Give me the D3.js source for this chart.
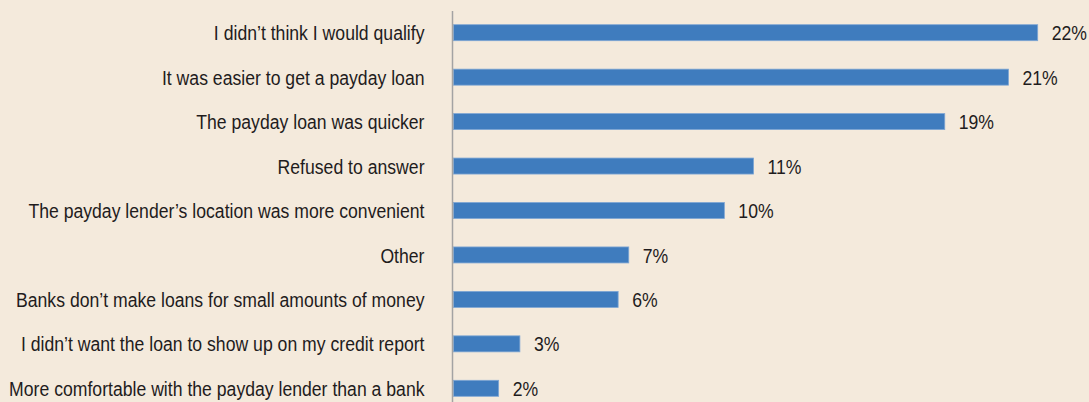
<!DOCTYPE html>
<html>
<head>
<meta charset="utf-8">
<script src="https://cdn.jsdelivr.net/npm/d3@7"></script>
<style>
  html, body { margin: 0; padding: 0; background: #f4eadc; }
  svg { display: block; }
  text { font-family: "Liberation Sans", Arial, sans-serif; fill: #1f1c1d; }
</style>
</head>
<body>
<svg id="chart" width="1089" height="402"></svg>
<script>
const categories = [
  "I didn\u2019t think I would qualify",
  "It was easier to get a payday loan",
  "The payday loan was quicker",
  "Refused to answer",
  "The payday lender\u2019s location was more convenient",
  "Other",
  "Banks don\u2019t make loans for small amounts of money",
  "I didn\u2019t want the loan to show up on my credit report",
  "More comfortable with the payday lender than a bank"
];
const values = [22.0, 20.9, 18.5, 11.3, 10.2, 6.6, 6.2, 2.5, 1.7];
const valueLabels = ["22%", "21%", "19%", "11%", "10%", "7%", "6%", "3%", "2%"];

const W = 1089, H = 402;
const x0 = 453.5;
const narrow = 0.84;
const fontSize = 21;
const svg = d3.select("#chart");
svg.append("rect").attr("width", W).attr("height", H).attr("fill", "#f4eadc");

const x = d3.scaleLinear().domain([0, 22]).range([x0, 1037.7]);
const y = d3.scalePoint().domain(categories).range([32.7, 388.3]);
const barH = 16;

const g = svg.append("g");
g.selectAll("rect.bar").data(values).join("rect")
  .attr("class", "bar")
  .attr("x", x(0))
  .attr("y", (d, i) => y(categories[i]) - barH / 2)
  .attr("width", d => x(d) - x(0))
  .attr("height", barH)
  .attr("fill", "#3f7cbe")
  .attr("stroke", "#7ea6d4")
  .attr("stroke-width", 0.8);

g.selectAll("text.val").data(values).join("text")
  .attr("class", "val")
  .attr("transform", (d, i) => `translate(${x(d) + 14},${y(categories[i])}) scale(${narrow},1)`)
  .attr("dy", "0.36em")
  .attr("font-size", fontSize)
  .text((d, i) => valueLabels[i]);

g.selectAll("text.cat").data(categories).join("text")
  .attr("class", "cat")
  .attr("transform", d => `translate(424.5,${y(d)}) scale(${narrow},1)`)
  .attr("dy", "0.36em")
  .attr("text-anchor", "end")
  .attr("font-size", fontSize)
  .text(d => d);

svg.append("line")
  .attr("x1", 452.5).attr("x2", 452.5)
  .attr("y1", 11).attr("y2", H)
  .attr("stroke", "#a3a3a3").attr("stroke-width", 1.5);
</script>
</body>
</html>
